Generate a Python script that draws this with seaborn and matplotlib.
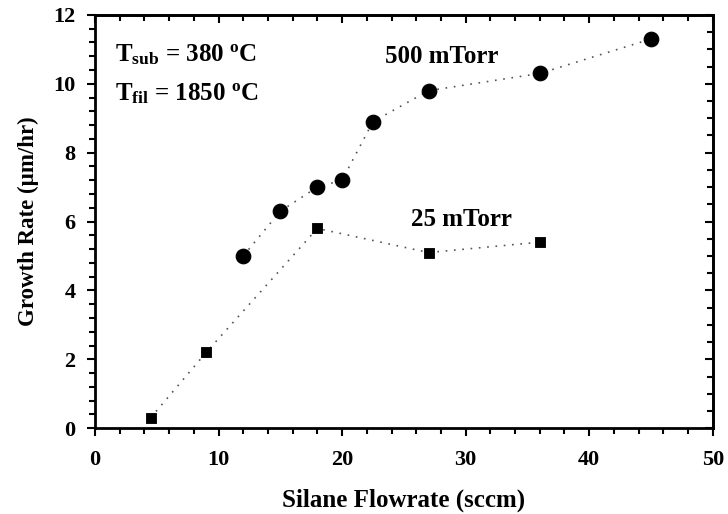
import matplotlib
matplotlib.use("Agg")
import matplotlib.pyplot as plt
import seaborn as sns
import pandas as pd
from matplotlib.ticker import MultipleLocator

# 500 mTorr series (circles)
flow_500 = [12, 15, 18, 20, 22.5, 27, 36, 45]
rate_500 = [5.0, 6.3, 7.0, 7.2, 8.9, 9.8, 10.3, 11.3]

# 25 mTorr series (squares)
flow_25 = [4.5, 9, 18, 27, 36]
rate_25 = [0.3, 2.2, 5.8, 5.1, 5.4]

sns.set_theme(style="white")
plt.rcParams["font.family"] = ["Liberation Serif", "DejaVu Serif"]
plt.rcParams["font.weight"] = "bold"
plt.rcParams["text.color"] = "black"
plt.rcParams["axes.labelcolor"] = "black"
plt.rcParams["xtick.color"] = "black"
plt.rcParams["ytick.color"] = "black"
plt.rcParams["mathtext.fontset"] = "custom"
plt.rcParams["mathtext.rm"] = "Liberation Serif:bold"
plt.rcParams["mathtext.it"] = "Liberation Serif:bold"
plt.rcParams["mathtext.bf"] = "Liberation Serif:bold"

df_500 = pd.DataFrame({"flow": flow_500, "rate": rate_500})
df_25 = pd.DataFrame({"flow": flow_25, "rate": rate_25})

fig = plt.figure(figsize=(7.28, 5.14), dpi=100)
ax = fig.add_axes([0.1305, 0.167, 0.8485, 0.804])

line_kw = dict(color="#555555", linewidth=1.2, linestyle=(0, (1, 4)))
sns.lineplot(data=df_500, x="flow", y="rate", sort=False, estimator=None,
             ax=ax, **line_kw)
sns.lineplot(data=df_25, x="flow", y="rate", sort=False, estimator=None,
             ax=ax, **line_kw)
sns.scatterplot(data=df_500, x="flow", y="rate", marker="o", s=110,
                color="black", edgecolor="black", ax=ax, zorder=3)
sns.scatterplot(data=df_25, x="flow", y="rate", marker="s", s=60,
                color="black", edgecolor="black", ax=ax, zorder=3)

ax.set_xlim(0, 50)
ax.set_ylim(0, 12)
ax.xaxis.set_major_locator(MultipleLocator(10))
ax.xaxis.set_minor_locator(MultipleLocator(2))
ax.yaxis.set_major_locator(MultipleLocator(2))
ax.yaxis.set_minor_locator(MultipleLocator(0.4))

for sp in ax.spines.values():
    sp.set_linewidth(2)
    sp.set_color("black")

ax.tick_params(which="major", direction="out", length=6, width=1.5,
               labelsize=16)
ax.tick_params(which="minor", direction="out", length=4, width=1.5)
ax.tick_params(axis="x", which="major", pad=10)
ax.tick_params(axis="y", which="major", pad=8)
ax.tick_params(axis="both", which="both", bottom=True, left=True)

# inward ticks on top and right
top = ax.secondary_xaxis("top")
top.xaxis.set_major_locator(MultipleLocator(10))
top.xaxis.set_minor_locator(MultipleLocator(2))
top.tick_params(which="major", direction="in", length=6, width=1.5, labeltop=False)
top.tick_params(which="minor", direction="in", length=4, width=1.5)
top.spines["top"].set_linewidth(2)

right = ax.secondary_yaxis("right")
right.yaxis.set_major_locator(MultipleLocator(2))
right.yaxis.set_minor_locator(MultipleLocator(0.5))
right.tick_params(which="major", direction="in", length=6, width=1.5, labelright=False)
right.tick_params(which="minor", direction="in", length=4, width=1.5)
right.spines["right"].set_linewidth(2)

ax.set_xlabel("Silane Flowrate (sccm)", fontsize=18, fontweight="bold", labelpad=13)
ax.set_ylabel("Growth Rate (\u00b5m/hr)", fontsize=16.5, fontweight="bold", labelpad=10)

ax.text(1.6, 10.64, r"T$_{\mathrm{sub}}$ = 380 $^{\mathrm{o}}$C", fontsize=18,
        fontweight="bold")
ax.text(1.6, 9.53, r"T$_{\mathrm{fil}}$ = 1850 $^{\mathrm{o}}$C", fontsize=18,
        fontweight="bold")
ax.text(23.5, 10.6, "500 mTorr", fontsize=18, fontweight="bold")
ax.text(25.6, 5.87, "25 mTorr", fontsize=18, fontweight="bold")

fig.savefig("out.png", dpi=100)
